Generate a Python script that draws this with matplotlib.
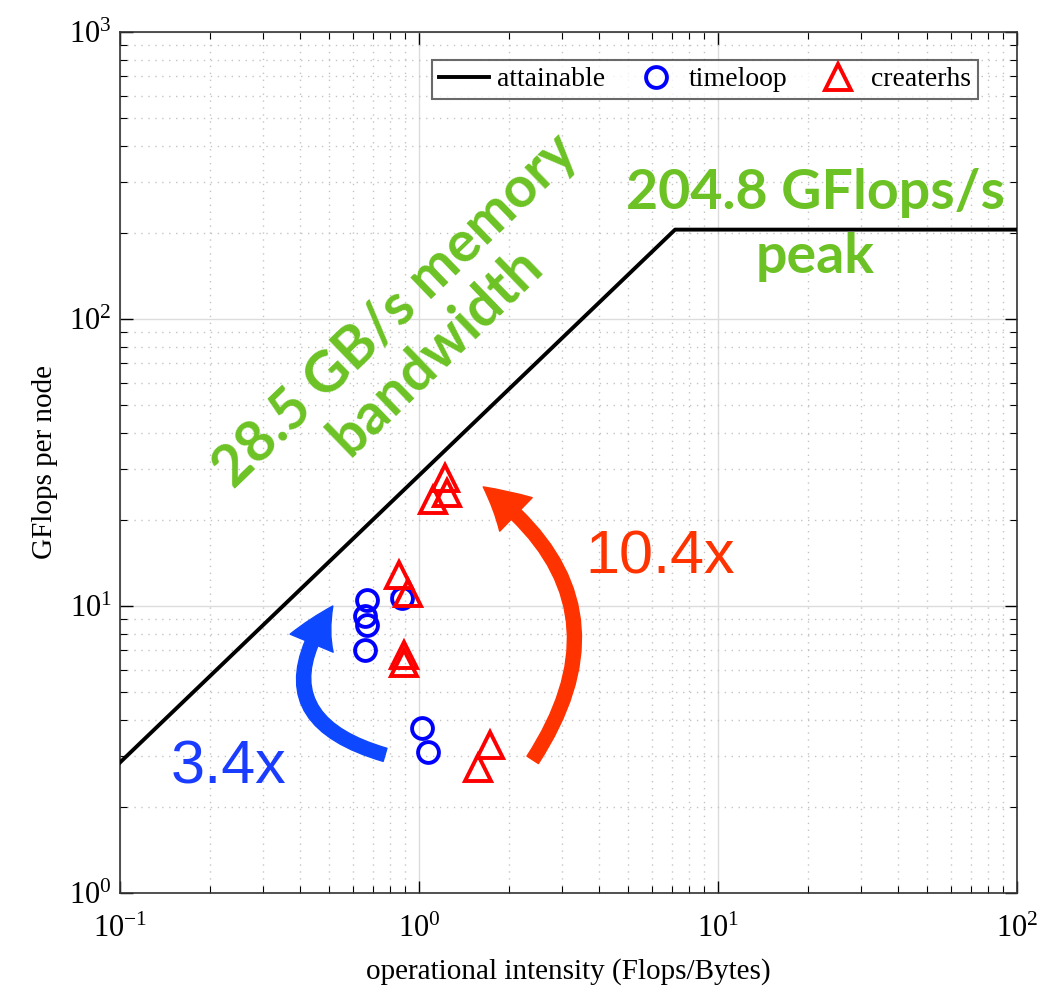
import matplotlib
matplotlib.use("Agg")
import matplotlib.pyplot as plt
from matplotlib.patches import FancyArrowPatch
import numpy as np

plt.rcParams['font.family'] = ['Liberation Serif', 'DejaVu Serif']
plt.rcParams['mathtext.fontset'] = 'stix'

# roofline parameters
bandwidth = 28.5   # GB/s
peak = 204.8       # GFlops/s
oi_line = [0.1, peak / bandwidth, 100]

timeloop_oi = [0.67, 0.66, 0.67, 0.66, 0.88, 1.02, 1.07]
timeloop_gf = [10.5, 9.2, 8.6, 7.0, 10.7, 3.75, 3.1]
createrhs_oi = [1.22, 1.11, 1.24, 0.86, 0.92, 0.89, 0.89, 1.73, 1.57]
createrhs_gf = [28.0, 23.4, 24.8, 12.8, 11.1, 6.75, 6.35, 3.28, 2.73]

# speed-up arrows: (tail, head)
blue_arrow = [(0.77, 3.03), (0.515, 10.0)]
red_arrow = [(2.40, 2.91), (1.64, 26.0)]

green = '#6cc224'

fig = plt.figure(figsize=(10.63, 9.93), dpi=100)
ax = fig.add_axes([0.1129, 0.1007, 0.8438, 0.8671])

ax.plot(oi_line, [min(bandwidth * x, peak) for x in oi_line], color='black', lw=2.8,
        label='attainable', zorder=3)
ax.plot(timeloop_oi, timeloop_gf, 'o', ms=15, mfc='none', mec='blue', mew=2.8,
        label='timeloop', zorder=4)
ax.plot(createrhs_oi, createrhs_gf, '^', ms=19, mfc='none', mec='red', mew=2.8,
        label='createrhs', zorder=4)

ax.set_xscale('log')
ax.set_yscale('log')
ax.set_xlim(0.1, 100)
ax.set_ylim(1, 1000)

ax.grid(True, which='major', color='#dcdcdc', lw=1.0, ls='-')
ax.grid(True, which='minor', color='#c4c4c4', lw=1.0, ls=(0, (1, 4)))
ax.set_axisbelow(True)
ax.tick_params(which='both', direction='in', top=True, right=True, labelsize=22)
ax.tick_params(which='major', length=9, width=1)
ax.tick_params(which='minor', length=5, width=0.8)
ax.tick_params(axis='x', which='major', pad=16)
ax.tick_params(axis='y', which='major', pad=6)
for s in ax.spines.values():
    s.set_linewidth(1.2)
    s.set_color('#333333')

ax.set_xlabel('operational intensity (Flops/Bytes)', fontsize=21, labelpad=10)
ax.set_ylabel('GFlops per node', fontsize=21, labelpad=8)

leg = ax.legend(loc='upper right', bbox_to_anchor=(0.9565, 0.9675), ncol=3,
                fontsize=20, frameon=True, fancybox=False, edgecolor='#444444',
                handlelength=1.8, handletextpad=0.3, columnspacing=0.9,
                borderpad=0.25, borderaxespad=0, markerscale=1.0)
leg.get_frame().set_linewidth(1.5)

# annotations
ax.text(0.977, 90.8, '28.5 GB/s memory\nbandwidth', color=green, fontsize=41,
        fontweight='bold', family='Lato', rotation=44, ha='center', va='center',
        linespacing=1.1, rotation_mode='anchor')
ax.text(21.1, 212, '204.8 GFlops/s\npeak', color=green, fontsize=40,
        fontweight='bold', family='Lato', ha='center', va='center', linespacing=1.35)
ax.text(6.4, 14.7, '10.4x', color='#ff3300', fontsize=44, family='Liberation Sans',
        ha='center', va='center')
ax.text(0.23, 2.73, '3.4x', color='#1a3cff', fontsize=44, family='Liberation Sans',
        ha='center', va='center')

for (tail, head), col, rad in [(blue_arrow, '#0d47ff', -0.7), (red_arrow, '#ff3300', 0.47)]:
    arr = FancyArrowPatch(tail, head, connectionstyle='arc3,rad=%s' % rad,
                          arrowstyle='simple,head_width=2.4,head_length=2.2,tail_width=0.7',
                          mutation_scale=14, color=col, shrinkA=0, shrinkB=0, zorder=5)
    ax.add_patch(arr)

fig.savefig('out.png', dpi=100)
